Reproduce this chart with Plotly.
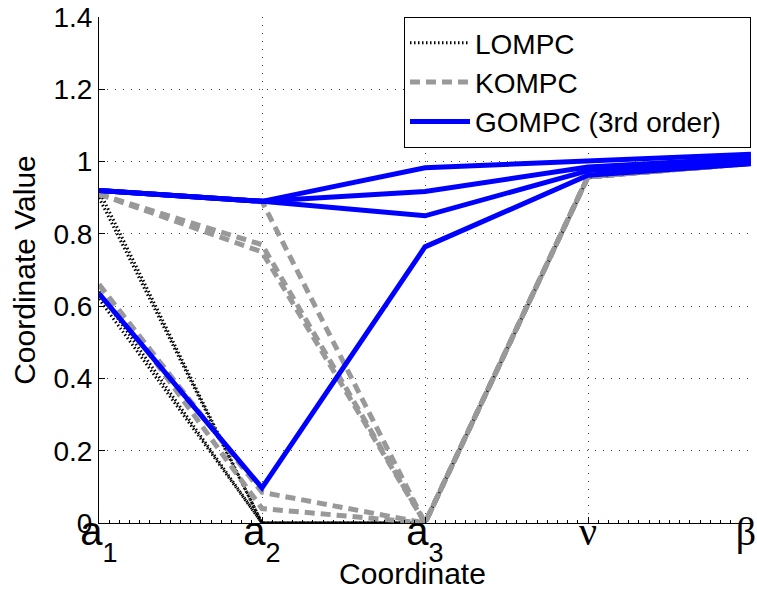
import plotly.graph_objects as go

# Parallel-coordinate positions along the horizontal axis
coord_pos = [1, 2, 3, 4, 5]
coord_labels = [
    'a<span style="font-size:27px;baseline-shift:-17px">1</span>',
    'a<span style="font-size:27px;baseline-shift:-17px">2</span>',
    'a<span style="font-size:27px;baseline-shift:-17px">3</span>',
    '<span style="font-family:Liberation Serif">ν</span>',
    '<span style="font-family:Liberation Serif">β&nbsp;</span>',
]

# Estimated coordinate values (a1, a2, a3, nu, beta) for each run
lompc_runs = [
    [0.92, 0.00, 0.00, 0.955, 0.995],
    [0.90, 0.00, 0.00, 0.955, 0.995],
    [0.64, 0.00, 0.00, 0.955, 0.995],
    [0.62, 0.00, 0.00, 0.955, 0.995],
]
kompc_runs = [
    [0.92, 0.89, 0.00, 0.958, 0.995],
    [0.91, 0.77, 0.00, 0.958, 0.995],
    [0.91, 0.75, 0.00, 0.958, 0.995],
    [0.66, 0.085, 0.00, 0.958, 0.995],
    [0.66, 0.04, 0.00, 0.958, 0.995],
]
gompc_runs = [
    [0.92, 0.89, 0.983, 1.00, 1.02],
    [0.92, 0.89, 0.917, 0.985, 1.01],
    [0.92, 0.89, 0.85, 0.975, 1.00],
    [0.635, 0.097, 0.764, 0.962, 0.994],
]

y_ticks = [0, 0.2, 0.4, 0.6, 0.8, 1, 1.2, 1.4]
y_ticktext = ["0", "0.2", "0.4", "0.6", "0.8", "1", "1.2", "1.4"]

series = [
    # name, runs, line style, legend rank
    ("LOMPC", lompc_runs, dict(color="black", width=3, dash="1.5px,2.5px"), 1),
    ("KOMPC", kompc_runs, dict(color="#999999", width=5, dash="10px,6px"), 2),
    ("GOMPC (3rd order)", gompc_runs, dict(color="#0000ff", width=5), 3),
]

fig = go.Figure()
for name, runs, line, rank in series:
    for i, run in enumerate(runs):
        fig.add_trace(go.Scatter(
            x=coord_pos, y=run, mode="lines", line=line,
            name=name + "&nbsp;&nbsp;&nbsp;", legendgroup=name, showlegend=(i == 0),
            legendrank=rank, hoverinfo="skip",
        ))

fig.update_layout(
    width=757, height=590,
    margin=dict(l=99, r=6, t=17, b=67),
    paper_bgcolor="white", plot_bgcolor="white",
    font=dict(family="Liberation Sans, Arial, sans-serif", color="black", size=28),
    legend=dict(
        x=1, y=1, xanchor="right", yanchor="top",
        bordercolor="black", borderwidth=1, bgcolor="white",
        font=dict(size=28), itemwidth=60, tracegroupgap=0,
    ),
)

fig.update_xaxes(
    range=[1, 5], tickvals=coord_pos, ticktext=coord_labels,
    tickfont=dict(size=40), ticklabeloverflow="allow", ticklabelstandoff=-27,
    automargin=False,
    showline=True, linecolor="black", linewidth=1, mirror=False,
    ticks="inside", ticklen=6, tickcolor="black",
    minor=dict(ticks="inside", ticklen=3, dtick=1 / 16, tickcolor="black", showgrid=False),
    showgrid=True, gridcolor="#444444", gridwidth=1, griddash="1px,7px",
    zeroline=False,
    title=dict(text="Coordinate&nbsp;&nbsp;&nbsp;", font=dict(size=30), standoff=0),
)
fig.update_yaxes(
    range=[0, 1.4], tickvals=y_ticks, ticktext=y_ticktext,
    automargin=False,
    showline=True, linecolor="black", linewidth=1, mirror=False,
    ticks="inside", ticklen=6, tickcolor="black",
    showgrid=True, gridcolor="#444444", gridwidth=1, griddash="1px,7px",
    zeroline=False,
    title=dict(text="Coordinate Value", font=dict(size=30), standoff=8),
)

fig.write_html("out.html")
